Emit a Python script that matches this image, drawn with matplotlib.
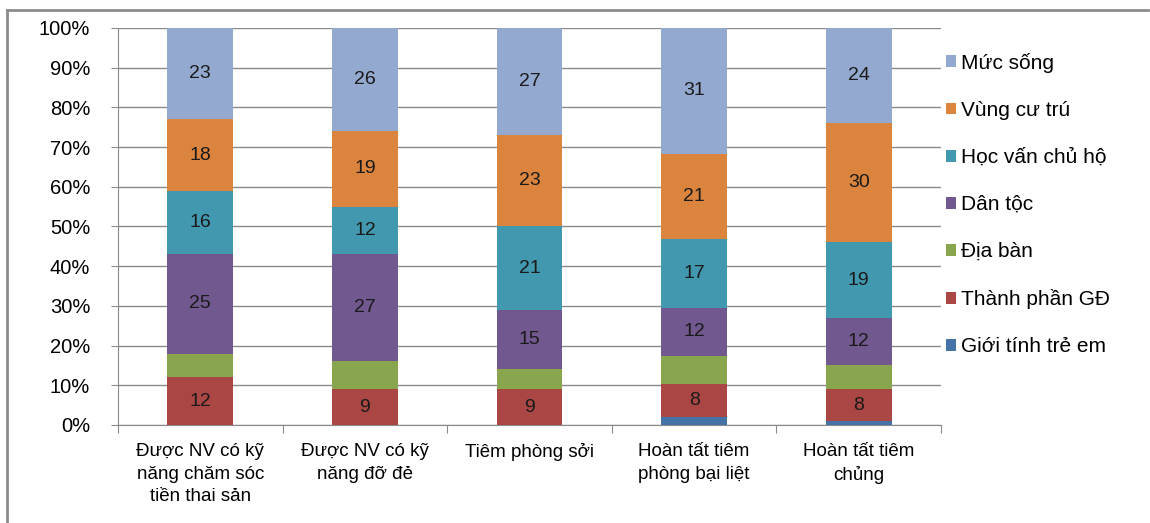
import numpy as np
import matplotlib
matplotlib.use("Agg")
import matplotlib.pyplot as plt
from matplotlib.patches import Patch
from matplotlib.lines import Line2D

plt.rcParams['font.family'] = ['Liberation Sans', 'DejaVu Sans']

categories = ["Được NV có kỹ\nnăng chăm sóc\ntiền thai sản",
              "Được NV có kỹ\nnăng đỡ đẻ",
              "Tiêm phòng sởi",
              "Hoàn tất tiêm\nphòng bại liệt",
              "Hoàn tất tiêm\nchủng"]

series_names = ["Giới tính trẻ em", "Thành phần GĐ", "Địa bàn", "Dân tộc",
                "Học vấn chủ hộ", "Vùng cư trú", "Mức sống"]

gioi_tinh = [0, 0, 0, 2, 1]
thanh_phan = [12, 9, 9, 8, 8]
dia_ban = [6, 7, 5, 7, 6]
dan_toc = [25, 27, 15, 12, 12]
hoc_van = [16, 12, 21, 17, 19]
vung_cu_tru = [18, 19, 23, 21, 30]
muc_song = [23, 26, 27, 31, 24]

# which series get a number printed on the bar
labelled = [False, True, False, True, True, True, True]

colors = ["#4572A7", "#AA4643", "#89A54E", "#71588F", "#4198AF", "#DB843D", "#93A9CF"]

data = np.array([gioi_tinh, thanh_phan, dia_ban, dan_toc, hoc_van, vung_cu_tru, muc_song], dtype=float)
share = data / data.sum(axis=0) * 100  # 100% stacked

fig = plt.figure(figsize=(11.5, 5.23), dpi=100)
ax = fig.add_axes([0.1026, 0.1874, 0.7157, 0.7591])

x = np.arange(len(categories))
bottom = np.zeros(len(categories))
for i in range(len(series_names)):
    ax.bar(x, share[i], 0.4, bottom=bottom, color=colors[i], zorder=3)
    if labelled[i]:
        for j in range(len(categories)):
            if data[i][j] > 0:
                ax.text(x[j], bottom[j] + share[i][j] / 2, f"{data[i][j]:.0f}",
                        ha="center", va="center", fontsize=14, color="#1a1a1a", zorder=4)
    bottom += share[i]

ax.set_xlim(-0.5, len(categories) - 0.5)
ax.set_ylim(0, 100)
ax.set_yticks(np.arange(0, 101, 10))
ax.set_yticklabels([f"{v}%" for v in range(0, 101, 10)], fontsize=14.5)
ax.yaxis.grid(True, color="#8a8a8a", linewidth=1)
ax.set_axisbelow(True)

ax.set_xticks(np.arange(-0.5, len(categories)), minor=False)
ax.set_xticklabels([])
ax.set_xticks(x, minor=True)
ax.set_xticklabels(categories, minor=True, fontsize=13.5, linespacing=1.42)
ax.tick_params(axis="x", which="major", length=6, color="#8a8a8a", direction="out")
ax.tick_params(axis="x", which="minor", length=0, pad=13)
ax.tick_params(axis="y", length=5, color="#8a8a8a", pad=15)

for s in ["top", "right"]:
    ax.spines[s].set_visible(False)
for s in ["left", "bottom"]:
    ax.spines[s].set_color("#8a8a8a")

handles = [Patch(facecolor=colors[i], label=series_names[i]) for i in range(len(series_names))][::-1]
fig.legend(handles=handles, loc="upper left", bbox_to_anchor=(0.806, 0.935),
           frameon=False, fontsize=15, handlelength=0.5, handleheight=0.5,
           handletextpad=0.25, labelspacing=1.35)

# chart border (top and left visible in the crop)
fig.add_artist(Line2D([0.006, 0.998], [0.981, 0.981], color="#8c8c8c", linewidth=2, transform=fig.transFigure))
fig.add_artist(Line2D([0.006, 0.006], [0.0, 0.981], color="#8c8c8c", linewidth=2, transform=fig.transFigure))

fig.savefig("out.png", dpi=100)
